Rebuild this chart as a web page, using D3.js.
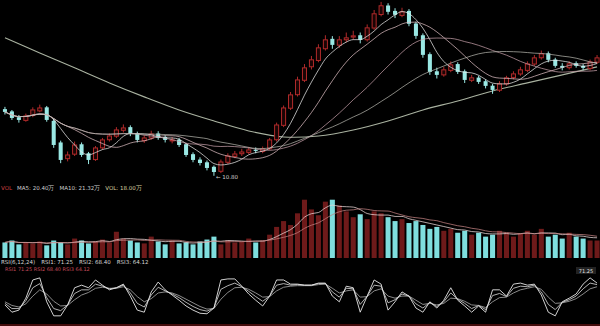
<!DOCTYPE html>
<html><head><meta charset="utf-8">
<script src="https://cdn.jsdelivr.net/npm/d3@7"></script>
<style>html,body{margin:0;padding:0;background:#000;overflow:hidden}svg{display:block}</style>
</head><body><svg id="c" width="600" height="326"></svg>
<script>
const opens=[18.20,17.95,17.30,16.95,17.50,18.00,18.40,16.90,14.50,12.70,13.20,14.30,13.30,12.60,13.90,14.80,15.20,15.85,16.20,15.50,14.70,15.00,15.50,15.10,14.70,14.80,14.30,13.20,12.60,12.30,11.80,11.30,12.30,12.95,13.25,13.40,13.70,13.50,13.80,14.80,16.40,18.30,19.80,21.40,22.90,23.60,24.90,26.00,25.30,25.90,26.20,26.40,25.90,27.20,28.70,29.70,29.10,28.60,29.10,27.70,26.40,24.30,22.40,22.00,22.50,23.20,22.40,21.40,21.70,21.30,20.80,20.30,21.00,21.70,22.10,22.50,23.20,23.90,24.40,23.70,23.00,22.80,23.30,23.00,22.70,23.40];
const closes=[17.89,17.22,17.00,17.44,18.11,18.33,17.00,14.22,12.56,13.11,14.22,13.11,12.56,13.89,14.78,15.22,15.89,16.11,15.44,14.78,15.00,15.44,15.00,14.78,14.78,14.22,13.11,12.56,12.22,11.67,11.22,12.33,13.00,13.22,13.44,13.67,13.56,13.78,14.78,16.44,18.33,19.78,21.44,22.78,23.67,25.00,25.89,25.33,25.89,26.11,26.33,25.89,27.22,28.78,29.67,29.00,28.67,29.00,27.67,26.33,24.22,22.33,22.00,22.56,23.11,22.33,21.44,21.67,21.22,20.78,20.33,21.00,21.67,22.11,22.56,23.22,23.89,24.33,23.67,23.00,22.78,23.22,23.00,22.78,23.44,23.89];
const highs=[18.45,18.10,17.55,17.70,18.40,18.70,18.55,17.10,14.70,13.50,14.60,14.50,13.45,14.10,15.00,15.50,16.20,16.50,16.40,15.70,15.30,15.80,15.75,15.30,15.10,15.00,14.45,13.40,12.85,12.50,11.95,12.60,13.30,13.55,13.80,14.00,13.95,14.05,15.00,16.70,18.60,20.10,21.80,23.20,24.10,25.40,26.40,26.30,26.30,26.70,26.90,26.70,27.60,29.20,30.10,29.95,29.40,29.45,29.30,27.90,26.60,24.50,22.80,22.90,23.50,23.40,22.60,22.00,21.90,21.50,21.00,21.30,21.90,22.40,22.90,23.50,24.20,24.70,24.60,23.90,23.30,23.50,23.50,23.20,23.70,24.20];
const lows=[17.60,17.00,16.70,16.80,17.30,17.85,16.80,13.90,12.20,12.40,13.00,12.90,12.10,12.45,13.70,14.60,15.00,15.60,15.20,14.50,14.45,14.80,14.80,14.50,14.40,14.00,12.90,12.30,11.95,11.40,10.80,11.10,12.10,12.75,13.00,13.20,13.30,13.30,13.65,14.60,16.20,18.10,19.60,21.20,22.60,23.40,24.70,24.90,25.00,25.60,25.90,25.50,25.70,27.00,28.50,28.70,28.30,28.40,27.40,26.00,23.90,22.00,21.60,21.80,22.30,22.10,21.10,21.20,21.00,20.50,19.90,20.10,20.80,21.50,21.90,22.30,23.00,23.70,23.40,22.80,22.50,22.60,22.80,22.50,22.50,23.20];
const volumes=[16,18,14,16,15,17,13,18,16,14,20,18,15,17,19,16,27,20,18,16,15,22,17,14,18,15,16,14,17,19,22,14,18,16,17,20,16,18,24,32,38,34,46,60,50,44,58,60,54,48,42,45,40,48,46,42,38,40,36,38,34,30,32,28,30,26,28,24,26,22,24,28,26,22,25,28,24,30,22,24,20,26,22,20,18,18];
const longMAIndex=[0,5,10,15,20,25,30,35,40,45,50,55,60,65,70,75,80,85];
const longMA=[26.11,24.44,22.78,21.11,19.56,18.11,16.89,15.78,15.11,15.22,15.89,16.89,18.11,19.11,20.22,21.11,22.00,22.89];
const rsi1=[29,15,19,42,77,81,35,8,8,29,62,67,62,77,67,58,62,69,46,19,15,54,73,58,48,38,27,19,13,12,23,77,79,79,65,50,38,27,46,77,77,69,69,67,67,71,71,46,35,65,62,15,46,77,69,19,35,54,46,23,15,35,23,38,62,38,27,15,27,15,58,58,46,69,71,67,69,48,15,8,35,42,50,69,81,71];
const rsi2=[32,22,22,37,62,70,43,22,18,29,51,58,58,69,65,60,62,67,52,32,25,48,63,56,50,43,34,26,20,17,23,59,66,71,64,55,45,36,46,67,70,67,68,67,67,70,70,54,44,61,60,30,46,67,65,33,39,50,46,31,23,34,26,35,52,40,32,22,28,20,47,51,45,61,65,64,67,54,30,20,34,39,46,60,71,68];
const rsi3=[35,28,25,31,46,58,50,36,27,28,39,48,53,61,63,61,61,64,58,45,35,41,52,54,52,47,40,33,26,21,22,40,53,62,63,59,52,44,45,56,63,65,66,66,66,68,69,61,52,56,58,44,45,56,60,46,42,46,46,38,30,32,29,32,42,41,36,29,28,24,35,43,44,52,58,61,64,59,44,32,33,36,41,50,60,64];
const volLegend=["VOL","MA5: 20.40万","MA10: 21.32万","VOL: 18.00万"];
const rsiLegend=["RSI(6,12,24)","RSI1: 71.25","RSI2: 68.40","RSI3: 64.12"];
const lowLabel="← 10.80";
const lastLabel="71.25";

const svg=d3.select("#c");
const W=600;
const idx=d3.range(closes.length);
const x=d3.scaleBand().domain(idx).range([0,602]).padding(0.42);
const xc=i=>x(i)+x.bandwidth()/2;
const yP=d3.scaleLinear().domain([10,30.2]).range([183,1]);
const yV=d3.scaleLinear().domain([0,70]).range([258,190]);
const yR=d3.scaleLinear().domain([0,100]).range([320,268]);
svg.append("rect").attr("width",600).attr("height",326).attr("fill","#000");

const UP="#b02a2a", DOWN="#9ae8e4";
function ma(arr,n){return arr.map((_,i)=>{const s=arr.slice(Math.max(0,i-n+1),i+1);return d3.mean(s);});}

// long MA
svg.append("path").datum(longMAIndex.map((k,j)=>[xc(k),yP(longMA[j])]))
 .attr("d",d3.line().curve(d3.curveCatmullRom)).attr("fill","none").attr("stroke","#a9b2a0").attr("stroke-width",1.1);

// candles
const g=svg.append("g");
idx.forEach(i=>{
  const up=closes[i]>=opens[i];
  const col=up?UP:DOWN;
  g.append("line").attr("x1",xc(i)).attr("x2",xc(i)).attr("y1",yP(highs[i])).attr("y2",yP(lows[i])).attr("stroke",col).attr("stroke-width",1);
  const top=yP(Math.max(opens[i],closes[i])), bot=yP(Math.min(opens[i],closes[i]));
  g.append("rect").attr("x",x(i)).attr("width",x.bandwidth()).attr("y",top).attr("height",Math.max(1,bot-top))
   .attr("fill",up?"#1a0505":DOWN).attr("stroke",up?UP:"none").attr("stroke-width",1);
});

// MAs
[[5,"#f0f0f0"],[10,"#e2c2c6"],[20,"#c9a2ac"],[30,"#b8b8b0"]].forEach(([n,c])=>{
  const m=ma(closes,n);
  svg.append("path").datum(idx).attr("d",d3.line().x(i=>xc(i)).y(i=>yP(m[i])).curve(d3.curveMonotoneX))
   .attr("fill","none").attr("stroke",c).attr("stroke-width",0.9).attr("opacity",0.8);
});

// low label
const iLow=d3.minIndex(lows);
svg.append("text").attr("x",xc(iLow)+2).attr("y",yP(lows[iLow])+3).text(lowLabel)
 .attr("font-family","DejaVu Sans").attr("font-size",5.5).attr("fill","#cfcfcf");

// volume legend
const lt=svg.append("text").attr("x",1).attr("y",190).attr("font-family","DejaVu Sans").attr("font-size",5.5);
volLegend.forEach((t,k)=>lt.append("tspan").attr("dx",k?5:0).attr("fill",k===0?"#d04040":(k===3?"#d8d0a0":"#cfcfcf")).text(t));

// volume bars
idx.forEach(i=>{
  const up=closes[i]>=opens[i];
  svg.append("rect").attr("x",x(i)-0.5).attr("width",x.bandwidth()+1).attr("y",yV(volumes[i])).attr("height",yV(0)-yV(volumes[i]))
   .attr("fill",up?"#6e1a1a":"#7fdede");
});
[[5,"#e8d8d8"],[10,"#c08080"]].forEach(([n,c])=>{
  const m=ma(volumes,n);
  svg.append("path").datum(idx).attr("d",d3.line().x(i=>xc(i)).y(i=>yV(m[i])).curve(d3.curveMonotoneX))
   .attr("fill","none").attr("stroke",c).attr("stroke-width",0.9).attr("opacity",0.85);
});

// rsi legend
const rt=svg.append("text").attr("x",1).attr("y",264).attr("font-family","DejaVu Sans").attr("font-size",5.5);
rsiLegend.forEach((t,k)=>rt.append("tspan").attr("dx",k?6:0).attr("fill","#d6d6d6").text(t));
svg.append("text").attr("x",5).attr("y",271).attr("font-family","DejaVu Sans").attr("font-size",5).attr("fill","#c04a5a").text("RSI1 71.25  RSI2 68.40  RSI3 64.12");

// rsi lines
[[rsi3,"#9a9a9a"],[rsi2,"#c4c4c4"],[rsi1,"#e6e6e6"]].forEach(([arr,c])=>{
  svg.append("path").datum(idx).attr("d",d3.line().x(i=>xc(i)).y(i=>yR(arr[i])))
   .attr("fill","none").attr("stroke",c).attr("stroke-width",0.9);
});
svg.append("rect").attr("x",576).attr("y",267).attr("width",20).attr("height",7).attr("fill","#222");
svg.append("text").attr("x",586).attr("y",272.5).attr("text-anchor","middle").attr("font-family","DejaVu Sans").attr("font-size",5).attr("fill","#e0e0e0").text(lastLabel);
svg.append("line").attr("x1",0).attr("x2",W).attr("y1",325).attr("y2",325).attr("stroke","#5a1010").attr("stroke-width",1.5);
</script></body></html>
